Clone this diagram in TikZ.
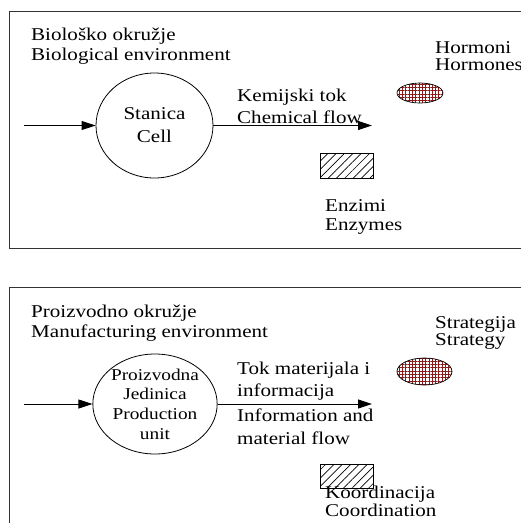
\documentclass[tikz,border=0pt]{standalone}
\usepackage{fontspec}
\setmainfont{Liberation Serif}[FakeStretch=1.17]
\usepackage{tikz}
\usetikzlibrary{arrows.meta,shapes.geometric,patterns.meta}
\definecolor{Frame}{HTML}{333333}
\definecolor{Horm}{HTML}{8B1A1A}

\begin{document}
\begin{tikzpicture}[x=1pt,y=-1pt,
  txt/.style={font=\fontsize{18}{#1}\selectfont,align=left,inner sep=0pt,anchor=base west},
  txt/.default=20,
  unitbox/.style={draw,ellipse,line width=0.8pt,inner sep=0pt,align=center},
  flow/.style={-{Triangle[length=14pt,width=9pt]},line width=0.8pt},
  panel/.style={draw=Frame,line width=1pt},
  hormone/.style={draw,ellipse,line width=0.7pt,inner sep=0pt,
    pattern={Hatch[distance=3.3pt,line width=0.9pt]},pattern color=Horm},
  enzyme/.style={draw,line width=0.7pt,inner sep=0pt,
    pattern={Lines[angle=45,distance=5.9pt,line width=0.7pt]}}]
  \useasboundingbox (0,0) rectangle (521,523);
  \clip (0,0) rectangle (521,523);

  % biological environment (text nodes sit on the baseline of their last line)
  \draw[panel] (9,11) rectangle (540,248);
  \node[txt] (bioTitle) at (31,60) {Biološko okružje\\Biological environment};
  \node[unitbox,minimum width=117,minimum height=105,
    font=\fontsize{18}{23}\selectfont] (cell) at (154.5,125.5) {Stanica\\Cell};
  \coordinate (cellIn) at (24,125.5);
  \coordinate (cellOut) at (372,125.5);
  \draw[flow] (cellIn) -- (cell.west);
  \draw[flow] (cell.east) -- (cellOut);
  \node[txt=21.6] (chemLbl) at (237,123.3) {Kemijski tok\\Chemical flow};
  \node[hormone,minimum width=46,minimum height=20] (hormones) at (420,93) {};
  \node[txt=16.7] (hormLbl) at (435,70) {Hormoni\\Hormones};
  \node[enzyme,minimum width=53,minimum height=25] (enzymes) at (346.5,165.5) {};
  \node[txt=18.5] (enzLbl) at (325,230) {Enzimi\\Enzymes};

  % manufacturing environment
  \draw[panel] (9,287) rectangle (540,560);
  \node[txt] (manTitle) at (31,337) {Proizvodno okružje\\Manufacturing environment};
  \node[unitbox,minimum width=120,minimum height=92,
    font=\fontsize{16.5}{19.7}\selectfont] (unit) at (155,404) {Proizvodna\\Jedinica\\Production\\unit};
  \coordinate (unitIn) at (24,404);
  \coordinate (unitOut) at (372,404);
  \draw[flow] (unitIn) -- (unit.west);
  \draw[flow] (unit.east) -- (unitOut);
  \node[txt=22.7] (flowUp) at (237,396.7) {Tok materijala i\\informacija};
  \node[txt=23] (flowDown) at (237,444) {Information and\\material flow};
  \node[hormone,minimum width=55,minimum height=27] (strategy) at (424.5,371.5) {};
  \node[txt=17] (stratLbl) at (435,345) {Strategija\\Strategy};
  \node[enzyme,minimum width=53,minimum height=24] (coordination) at (347,476) {};
  \node[txt=15.5] (coordLbl) at (325,516) {Koordinacija\\Coordination};
\end{tikzpicture}
\end{document}
